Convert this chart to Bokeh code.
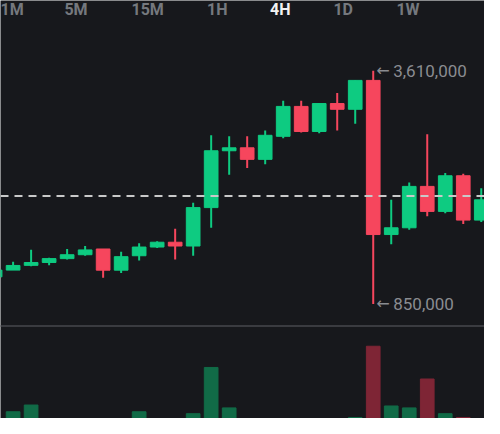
from bokeh.plotting import figure
from bokeh.models import Range1d, Label, Span, ColumnDataSource
from bokeh.embed import file_html
from bokeh.resources import INLINE

# ---- data ----
idx = list(range(28))
opens  = [1170000, 1250000, 1306000, 1340000, 1386000, 1432000, 1500000, 1249000,
          1420000, 1523000, 1580000, 1535000, 1990000, 2663000, 2698000, 2561000,
          2834000, 3188000, 2891000, 3222000, 3154000, 3496000, 1671000, 1751000,
          2241000, 1945000, 2367000, 1842000]
highs  = [1260000, 1350000, 1490000, 1397000, 1500000, 1535000, 1500000, 1466000,
          1569000, 1591000, 1740000, 2048000, 2846000, 2834000, 2834000, 2903000,
          3256000, 3256000, 3222000, 3348000, 3496000, 3610000, 2082000, 2287000,
          2857000, 2401000, 2390000, 2219000]
lows   = [1160000, 1250000, 1295000, 1306000, 1375000, 1420000, 1158000, 1215000,
          1363000, 1512000, 1375000, 1420000, 1751000, 2378000, 2458000, 2504000,
          2812000, 2880000, 2869000, 2903000, 2983000, 850000, 1557000, 1728000,
          1888000, 1922000, 1797000, 1820000]
closes = [1250000, 1305000, 1340000, 1386000, 1432000, 1489000, 1249000, 1409000,
          1523000, 1580000, 1535000, 1990000, 2663000, 2698000, 2561000, 2846000,
          3188000, 2891000, 3222000, 3154000, 3496000, 1671000, 1751000, 2241000,
          1945000, 2367000, 1842000, 2082000]
volumes = [80, 180, 250, 60, 50, 70, 90, 60, 180, 50, 80, 160, 640, 220, 70, 90,
           100, 60, 70, 50, 120, 860, 240, 220, 520, 160, 120, 90]
current_price = 2127000
tabs = ["1M", "5M", "15M", "1H", "4H", "1D", "1W"]
active_tab = "4H"
high_label = "3,610,000"
low_label = "850,000"

UP = "#0ecb81"
DOWN = "#f6465d"
UP_V = "#116b47"
DOWN_V = "#7e2535"
BG = "#17181c"

up = [c >= o for o, c in zip(opens, closes)]
src = ColumnDataSource(dict(
    x=idx, high=highs, low=lows,
    top=[max(o, c) for o, c in zip(opens, closes)],
    bottom=[min(o, c) for o, c in zip(opens, closes)],
    color=[UP if u else DOWN for u in up],
    vcolor=[UP_V if u else DOWN_V for u in up],
    vol=volumes,
))

p = figure(width=484, height=418, output_backend="svg", toolbar_location=None,
           x_range=Range1d(0.30, 27.18), y_range=Range1d(-507000, 4442000),
           min_border=0, background_fill_color=BG, border_fill_color=BG,
           outline_line_color=None)
p.axis.visible = False
p.grid.visible = False
p.extra_y_ranges = {"vol": Range1d(110, 4450)}

# volume
p.vbar(x="x", top="vol", bottom=0, width=0.76, color="vcolor", source=src,
       y_range_name="vol")
p.add_layout(Span(location=1070, dimension="width", line_color="#3a3b40",
                  line_width=2, y_range_name="vol"))

# candles
p.segment(x0="x", y0="low", x1="x", y1="high", color="color", line_width=2, source=src)
p.vbar(x="x", top="top", bottom="bottom", width=0.76, fill_color="color",
       line_color="color", line_width=1, source=src)

# current price line
p.add_layout(Span(location=current_price, dimension="width", line_color="#c9c9c9",
                  line_width=2, line_dash="8 6"))

# high / low labels
hi_i = highs.index(max(highs))
lo_i = lows.index(min(lows))
for xi, yv, txt in [(hi_i, max(highs), high_label), (lo_i, min(lows), low_label)]:
    p.add_layout(Label(x=xi, y=yv, text="\u2190", x_offset=3, text_baseline="middle",
                       text_color="#8a8c91", text_font_size="16px",
                       text_font="DejaVu Sans"))
    p.add_layout(Label(x=xi, y=yv, text=txt, x_offset=20, text_baseline="middle",
                       text_color="#8a8c91", text_font_size="17px", text_font="Roboto"))

# timeframe tabs
tab_x = [12, 78, 152, 224, 289, 354, 421]
for tx, t in zip(tab_x, tabs):
    p.add_layout(Label(x=tx * 0.968, y=418 - 8.5, x_units="screen", y_units="screen",
                       text=t, text_align="center", text_baseline="middle",
                       text_font="Roboto", text_font_style="bold", text_font_size="16px",
                       text_color="#f2f2f2" if t == active_tab else "#75787e"))

open("out.html", "w").write(file_html(p, INLINE))
